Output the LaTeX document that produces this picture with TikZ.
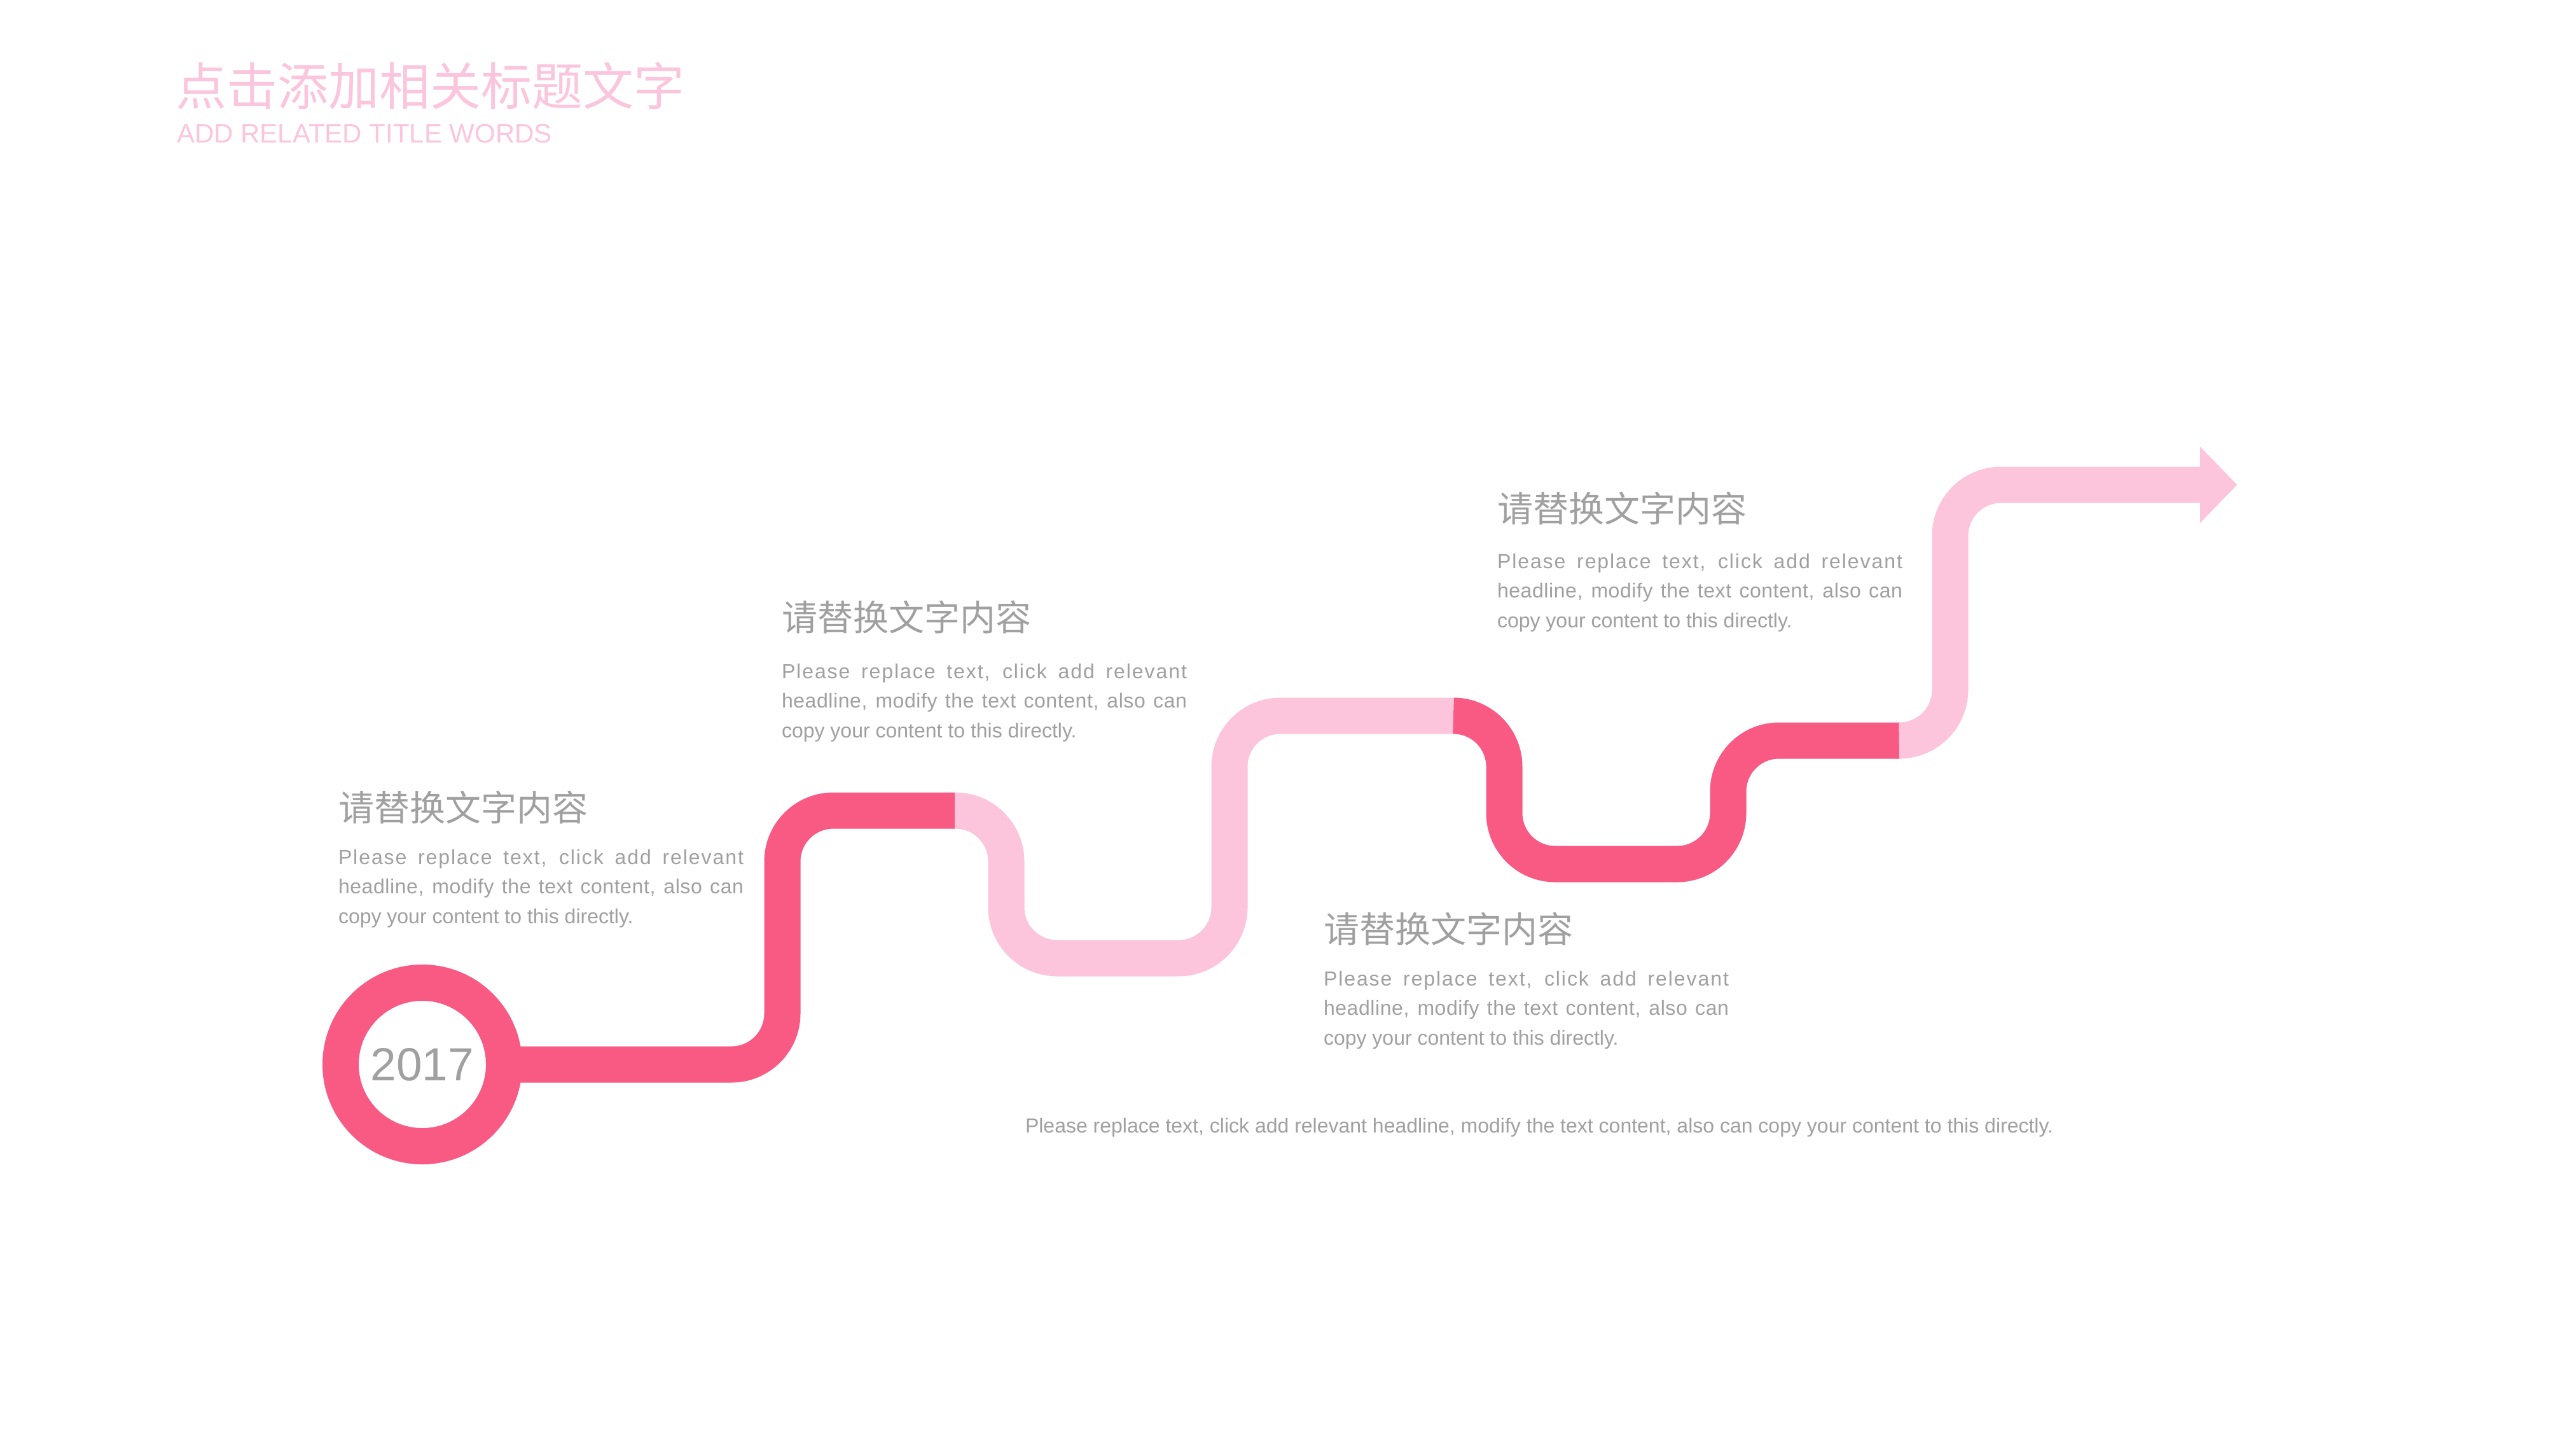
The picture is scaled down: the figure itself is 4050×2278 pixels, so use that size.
\documentclass[tikz,border=0pt]{standalone}
\usepackage{fontspec}
\usepackage{graphicx}
\setmainfont{Liberation Sans}
\newfontfamily\cjk{Noto Sans CJK SC}
\definecolor{darkpink}{RGB}{249,90,131}
\definecolor{lightpink}{RGB}{252,197,220}
\definecolor{titlepink}{RGB}{251,198,221}
\definecolor{textgray}{RGB}{160,160,160}
\tikzset{
  darkseg/.style={draw=darkpink, line width=57pt, rounded corners=80pt, line cap=butt, line join=miter},
  lightseg/.style={draw=lightpink, line width=57pt, rounded corners=80pt, line cap=butt, line join=miter},
  headtext/.style={anchor=base west, inner sep=0pt, outer sep=0pt, text=textgray, font=\cjk\fontsize{56}{60}\selectfont},
  bodytext/.style={anchor=base west, inner sep=0pt, outer sep=0pt, text=textgray, font=\fontsize{32}{40}\selectfont},
}
\newcommand{\infoblock}[4]{%
  \node[headtext] (#1h) at (#2,#3) {请替换文字内容};
  \node[bodytext] (#1a) at (#2,#4) {\makebox[637pt][s]{\addfontfeatures{LetterSpace=6}Please replace text, click add relevant}};
  \node[bodytext] (#1b) at (#2,#4+46.5) {\makebox[637pt][s]{\addfontfeatures{LetterSpace=1.8}headline, modify the text content, also can}};
  \node[bodytext] (#1c) at (#2,#4+93) {copy your content to this directly.};
}
\begin{document}
\begin{tikzpicture}[x=1pt,y=-1pt]
\useasboundingbox (0,0) rectangle (4050,2278);
\fill[white] (0,0) rectangle (4050,2278);

% title
\node[anchor=base west, inner sep=0pt, text=titlepink, font=\cjk\fontsize{80}{90}\selectfont] (title) at (276,165) {点击添加相关标题文字};
\node[anchor=base west, inner sep=0pt, text=titlepink, font=\fontsize{42}{50}\selectfont] (subtitle) at (278,224) {ADD RELATED TITLE WORDS};

% start ring
\node[circle, draw=darkpink, line width=57pt, minimum size=257pt, inner sep=0pt, outer sep=0pt,
      text=textgray, font=\fontsize{73}{80}\selectfont] (ring) at (664,1673) {2017};

% transition points
\coordinate (t1) at (1501,1274);
\coordinate (t2) at (2285,1125);
\coordinate (t3) at (2987,1164);
\coordinate (tip) at (3517,762);
\coordinate (shaftend) at (3460,762);

% path segments
\draw[darkseg] (ring.east) -- (1230,1673) -- (1230,1274) -- (t1);
\draw[lightseg] (t1) -- (1582,1274) -- (1582,1506) -- (1933,1506) -- (1933,1125) -- (t2);
\draw[darkseg] (t2) -- (2365,1125) -- (2365,1358) -- (2717,1358) -- (2717,1164) -- (t3);
\draw[lightseg] (t3) -- (3066,1164) -- (3066,762) -- (shaftend);
\fill[lightpink] (3459,702) -- (tip) -- (3459,822) -- cycle;

% text blocks
\infoblock{b1}{532}{1290}{1358}
\infoblock{b2}{1229}{991}{1066}
\infoblock{b3}{2081}{1481}{1549}
\infoblock{b4}{2354}{820}{893}

\node[bodytext] (bottom) at (1612,1780) {Please replace text, click add relevant headline, modify the text content, also can copy your content to this directly.};
\end{tikzpicture}
\end{document}
